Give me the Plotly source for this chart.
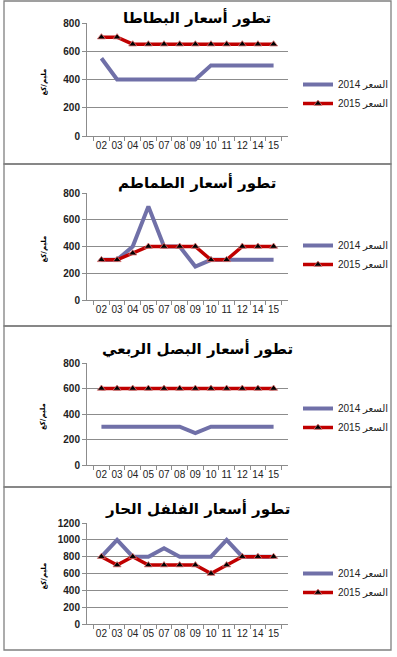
import plotly.graph_objects as go

W, H = 397, 657

categories = ["02", "03", "04", "05", "07", "08", "09", "10", "11", "12", "14", "15"]

titles = ["تطور أسعار البطاطا", "تطور أسعار الطماطم", "تطور أسعار البصل الربعي", "تطور أسعار الفلفل الحار"]

potato_2014 = [550, 400, 400, 400, 400, 400, 400, 500, 500, 500, 500, 500]
potato_2015 = [700, 700, 650, 650, 650, 650, 650, 650, 650, 650, 650, 650]

tomato_2014 = [300, 300, 400, 700, 400, 400, 250, 300, 300, 300, 300, 300]
tomato_2015 = [300, 300, 350, 400, 400, 400, 400, 300, 300, 400, 400, 400]

onion_2014 = [300, 300, 300, 300, 300, 300, 250, 300, 300, 300, 300, 300]
onion_2015 = [600, 600, 600, 600, 600, 600, 600, 600, 600, 600, 600, 600]

pepper_2014 = [800, 1000, 800, 800, 900, 800, 800, 800, 1000, 800, 800, 800]
pepper_2015 = [800, 700, 800, 700, 700, 700, 700, 600, 700, 800, 800, 800]

y_max = [800, 800, 800, 1200]
y_dtick = [200, 200, 200, 200]

series_names = ["السعر 2014", "السعر 2015"]
y_title = "مليم/كغ"

data_2014 = [potato_2014, tomato_2014, onion_2014, pepper_2014]
data_2015 = [potato_2015, tomato_2015, onion_2015, pepper_2015]

# layout in pixels (top, bottom) of plot areas
plot_px = [(23, 136), (193, 300), (363, 465), (523, 624)]
title_px = [17, 182, 348, 508]
legend_px = [70, 231, 394, 559]
panel_px = [(1, 164), (164, 326), (326, 487), (487, 650)]
x_left, x_right = 87, 288

def fy(p):
    return 1 - p / H

C2014 = "#7070A8"
C2015 = "#C00000"
GRID = "#8C8C8C"

fig = go.Figure()
layout = dict(
    width=W, height=H,
    margin=dict(l=0, r=0, t=0, b=0, pad=0, autoexpand=False),
    paper_bgcolor="white", plot_bgcolor="white",
    showlegend=True,
    annotations=[], shapes=[],
)

for i in range(4):
    xa = "x" if i == 0 else f"x{i+1}"
    ya = "y" if i == 0 else f"y{i+1}"
    lg = "legend" if i == 0 else f"legend{i+1}"
    fig.add_trace(go.Scatter(
        x=categories, y=data_2014[i], mode="lines", name=series_names[0],
        line=dict(color=C2014, width=4), xaxis=xa, yaxis=ya, legend=lg,
    ))
    fig.add_trace(go.Scatter(
        x=categories, y=data_2015[i], mode="lines+markers", name=series_names[1],
        line=dict(color=C2015, width=3.5),
        marker=dict(symbol="triangle-up", size=7, color="black", line=dict(color="#E07070", width=0.8)),
        xaxis=xa, yaxis=ya, legend=lg,
    ))
    top, bot = plot_px[i]
    xkey = "xaxis" if i == 0 else f"xaxis{i+1}"
    ykey = "yaxis" if i == 0 else f"yaxis{i+1}"
    layout[xkey] = dict(
        domain=[x_left / W, x_right / W], anchor=ya, type="category",
        tickson="boundaries", ticks="outside", ticklen=4, tickcolor=GRID, tickangle=0,
        showline=True, linecolor=GRID, linewidth=1, showgrid=False,
        tickfont=dict(family="Liberation Sans, Arial", size=10, color="#222"),
        fixedrange=True, automargin=False,
    )
    layout[ykey] = dict(
        domain=[fy(bot), fy(top)], anchor=xa, range=[0, y_max[i]], dtick=y_dtick[i],
        ticks="outside", ticklen=4, tickcolor=GRID, showline=True, linecolor=GRID, linewidth=1,
        showgrid=True, gridcolor=GRID, gridwidth=1, zeroline=False,
        tickfont=dict(family="Liberation Sans, Arial", size=10, color="#222", weight="bold"),
        fixedrange=True, automargin=False,
    )
    layout[lg] = dict(
        x=298 / W, y=fy(legend_px[i]), xanchor="left", yanchor="top",
        bgcolor="rgba(0,0,0,0)", font=dict(family="Liberation Sans, DejaVu Sans", size=10, color="#222"),
        tracegroupgap=0, itemwidth=30,
    )
    layout["annotations"].append(dict(
        text=titles[i], xref="paper", yref="paper", x=197 / W, y=fy(title_px[i]),
        xanchor="center", yanchor="middle", showarrow=False,
        font=dict(family="DejaVu Sans", size=15, color="black", weight="bold"),
    ))
    layout["annotations"].append(dict(
        text=y_title, xref="paper", yref="paper", x=43 / W, y=fy((top + bot) / 2 + 3),
        xanchor="center", yanchor="middle", showarrow=False, textangle=-90,
        font=dict(family="DejaVu Sans", size=7, color="black", weight="bold"),
    ))
    p0, p1 = panel_px[i]
    layout["shapes"].append(dict(
        type="rect", xref="paper", yref="paper", x0=4 / W, x1=391 / W, y0=fy(p1), y1=fy(p0),
        line=dict(color="#808080", width=1.3), fillcolor="rgba(0,0,0,0)", layer="below",
    ))

fig.update_layout(**layout)
fig.write_html("out.html", config={"displayModeBar": False},
               post_script="document.body.style.margin='0';document.body.style.padding='0';")
